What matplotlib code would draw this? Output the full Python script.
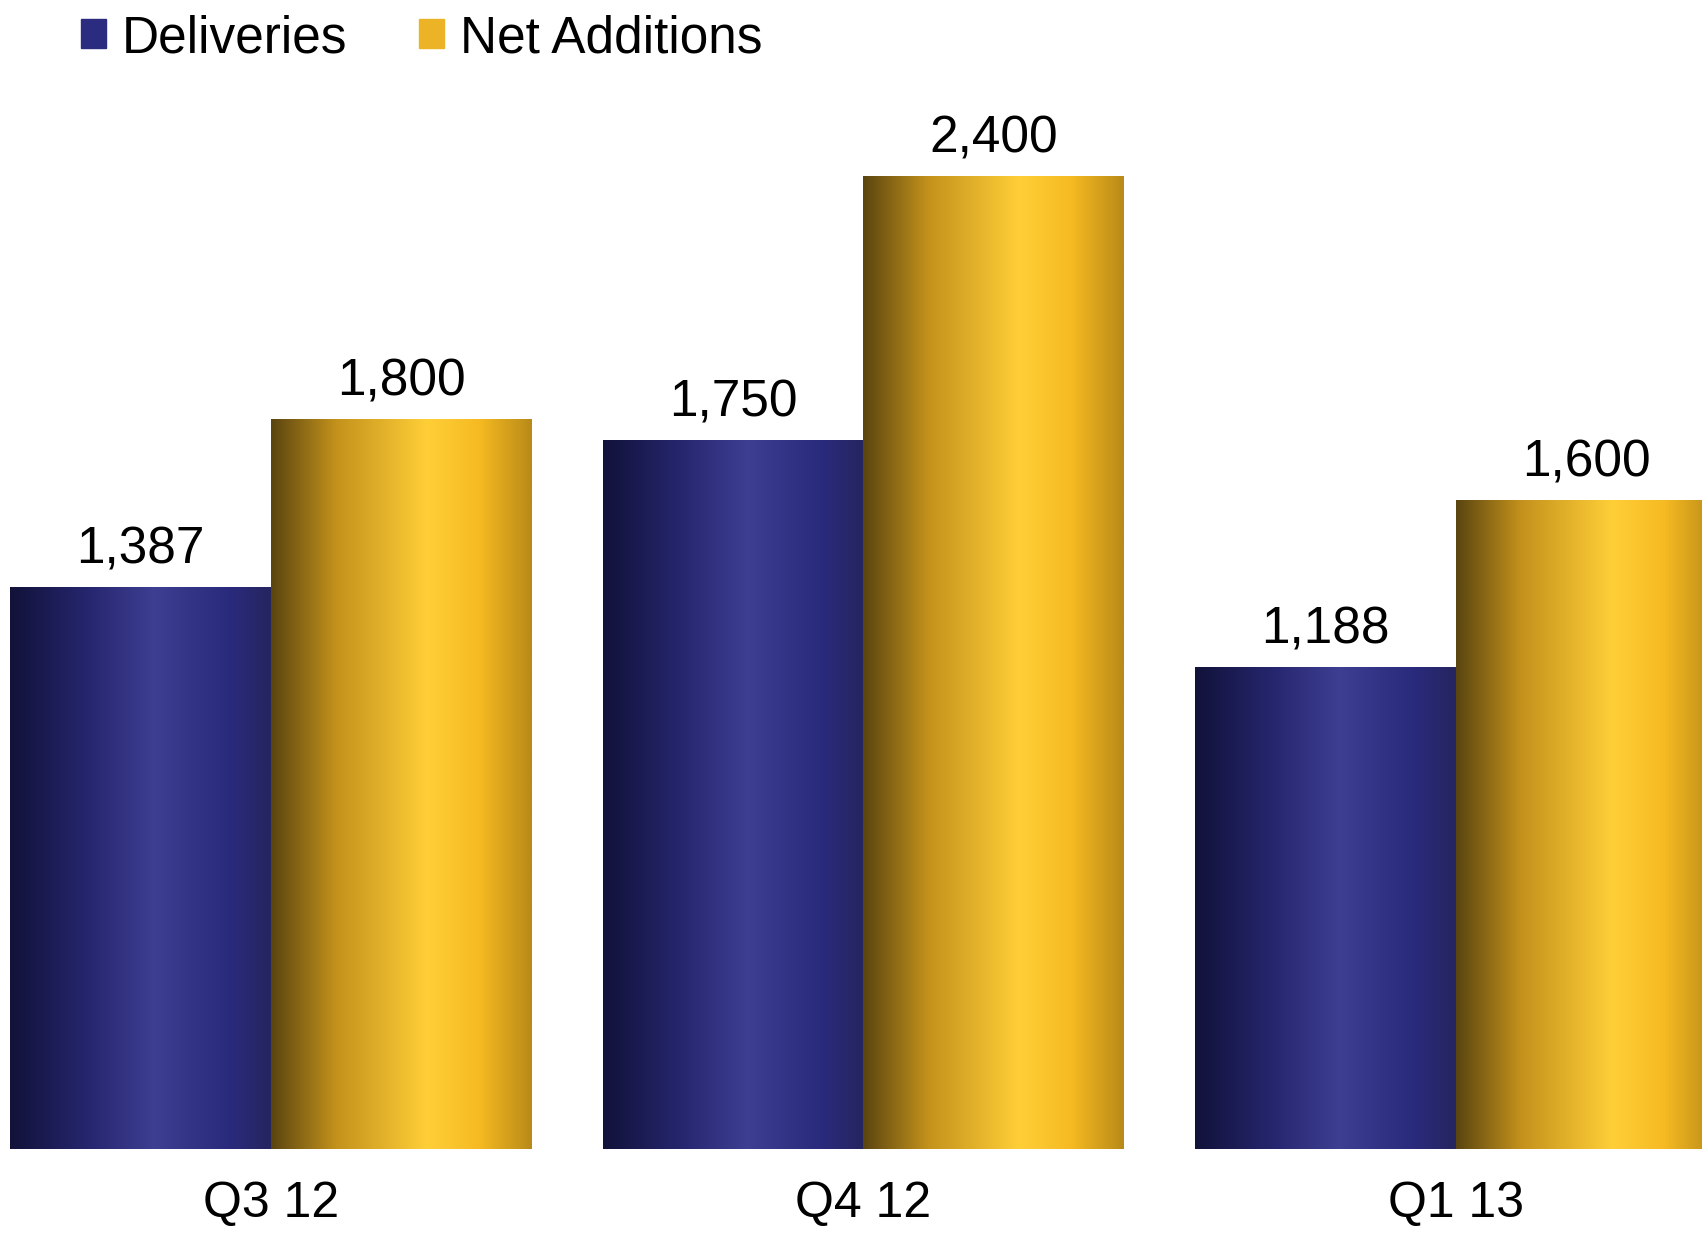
import numpy as np
import matplotlib.pyplot as plt
from matplotlib.colors import LinearSegmentedColormap
from matplotlib.patches import Patch

plt.rcParams['font.family'] = ['Liberation Sans', 'DejaVu Sans']

quarters = ["Q3 12", "Q4 12", "Q1 13"]
deliveries = [1387, 1750, 1188]
net_additions = [1800, 2400, 1600]

blue_cmap = LinearSegmentedColormap.from_list("blu", [
    (0.0, "#12123a"), (0.3, "#26266f"), (0.55, "#3e3e92"),
    (0.85, "#2a2a7c"), (1.0, "#25255f")])
gold_cmap = LinearSegmentedColormap.from_list("gld", [
    (0.0, "#5a4510"), (0.25, "#c4921c"), (0.6, "#ffcf38"),
    (0.8, "#f6ba22"), (1.0, "#b88a18")])

fig = plt.figure(figsize=(17.02, 12.33), dpi=100)
ax = fig.add_axes([0, 84 / 1233, 1, 1149 / 1233])

x = np.arange(len(quarters))
w = 0.44
b1 = ax.bar(x - w / 2, deliveries, w, color="#2b2b7f")
b2 = ax.bar(x + w / 2, net_additions, w, color="#ebb325")

grad = np.linspace(0, 1, 256).reshape(1, -1)
for bars, cm in [(b1, blue_cmap), (b2, gold_cmap)]:
    for p in bars:
        x0, y0 = p.get_x(), p.get_y()
        im = ax.imshow(grad, cmap=cm, aspect="auto", zorder=2,
                       extent=[x0, x0 + p.get_width(), y0, y0 + p.get_height()])
        im.set_clip_path(p)

ax.bar_label(b1, labels=[f"{v:,}" for v in deliveries], padding=9, fontsize=37)
ax.bar_label(b2, labels=[f"{v:,}" for v in net_additions], padding=9, fontsize=37)

ax.set_xlim(-0.457, 2.415)
ax.set_ylim(0, 2400 * 1149 / 973)
ax.set_xticks(x, quarters, fontsize=36)
ax.tick_params(axis="x", length=0, pad=23)
ax.set_yticks([])
for s in ax.spines.values():
    s.set_visible(False)

handles = [Patch(color="#2b2b7f"), Patch(color="#ebb325")]
fig.legend(handles, ["Deliveries", "Net Additions"], loc="upper left",
           bbox_to_anchor=(76 / 1702, 1 - 9 / 1233), ncol=2, frameon=False,
           fontsize=37, handlelength=0.49, handleheight=0.49,
           handletextpad=0.31, columnspacing=1.39, borderpad=0.1,
           borderaxespad=0)

fig.savefig("out.png", dpi=100)
